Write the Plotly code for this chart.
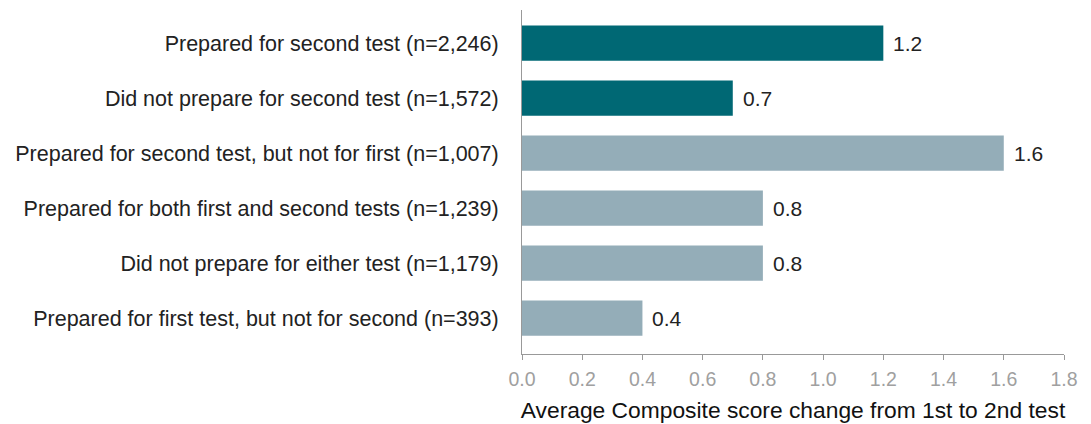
import plotly.graph_objects as go

categories = [
    "Prepared for second test (n=2,246)",
    "Did not prepare for second test (n=1,572)",
    "Prepared for second test, but not for first (n=1,007)",
    "Prepared for both first and second tests (n=1,239)",
    "Did not prepare for either test (n=1,179)",
    "Prepared for first test, but not for second (n=393)",
]
values = [1.2, 0.7, 1.6, 0.8, 0.8, 0.4]
groups = ["main", "main", "sub", "sub", "sub", "sub"]
group_colors = {"main": "#006874", "sub": "#94ADB8"}
x_ticks = [0.0, 0.2, 0.4, 0.6, 0.8, 1.0, 1.2, 1.4, 1.6, 1.8]
x_title = "Average Composite score change from 1st to 2nd test"

FONT = "Liberation Sans, Arial, sans-serif"

fig = go.Figure()
fig.add_trace(go.Bar(
    x=values,
    y=categories,
    orientation="h",
    marker=dict(color=[group_colors[g] for g in groups], line=dict(width=0)),
    hoverinfo="x+y",
))

for c, v in zip(categories, values):
    fig.add_annotation(
        x=v, y=c, text=f"{v:.1f}", showarrow=False,
        xanchor="left", yanchor="middle", xshift=8,
        font=dict(family=FONT, size=21, color="#222222"),
    )

fig.update_layout(
    width=1083, height=416,
    margin=dict(l=514, r=27, t=2, b=70, autoexpand=False),
    paper_bgcolor="white", plot_bgcolor="white",
    bargap=0.36,
    showlegend=False,
    font=dict(family=FONT, size=21, color="#222222"),
)
fig.update_xaxes(
    range=[0, 1.8],
    tickvals=x_ticks,
    ticktext=[f"{t:.1f}" for t in x_ticks],
    showgrid=False, zeroline=False,
    showline=True, linecolor="#999999", linewidth=1,
    ticks="outside", ticklen=5, tickcolor="#999999",
    tickfont=dict(family=FONT, size=19.5, color="#A0A0A0"),
    ticklabelstandoff=3,
    title=dict(text=x_title, font=dict(family=FONT, size=22.8, color="#111111"), standoff=12),
    automargin=False,
)
fig.update_yaxes(
    categoryorder="array", categoryarray=categories,
    range=[5.65, -0.6],
    showgrid=False, zeroline=False,
    showline=True, linecolor="#999999", linewidth=1,
    ticks="", ticklabelstandoff=18,
    tickfont=dict(family=FONT, size=21.5, color="#222222"),
    automargin=False,
)

fig.write_html("out.html")
